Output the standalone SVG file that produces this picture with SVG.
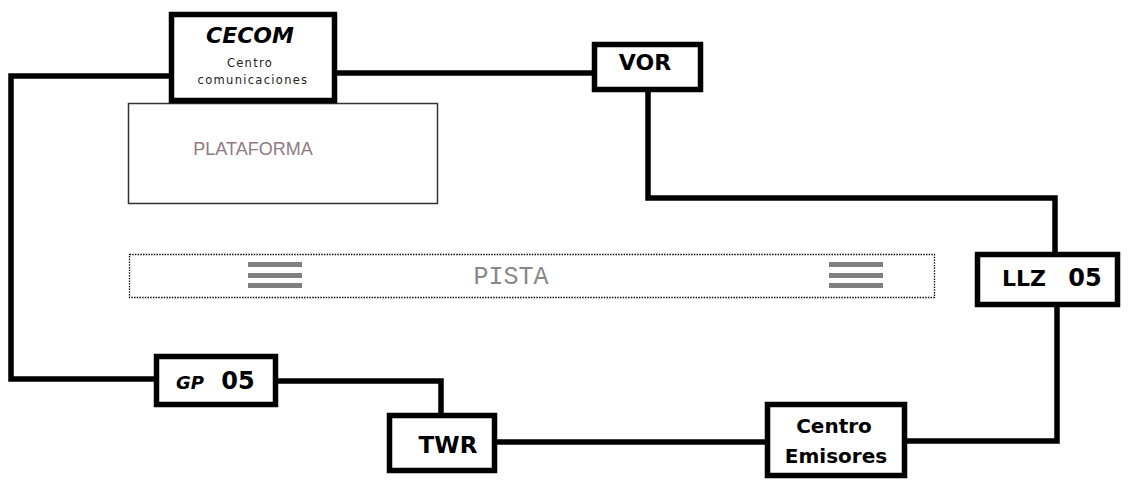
<svg xmlns="http://www.w3.org/2000/svg" width="1131" height="483" viewBox="0 0 1131 483">
<style>
.box{fill:#fff;stroke:#000;stroke-width:5.5}
.wire{fill:none;stroke:#000;stroke-width:5.5;stroke-linejoin:miter;stroke-linecap:butt}
.lbl{font-family:"DejaVu Sans",sans-serif;font-weight:bold;fill:#000;text-anchor:middle}
.it{font-style:oblique}
.sm{font-family:"DejaVu Sans",sans-serif;font-size:11.5px;fill:#222;text-anchor:middle;letter-spacing:1.3px}
.bar{fill:#808080}
</style>
<rect width="1131" height="483" fill="#fff"/>
<g id="plataforma">
<rect x="128.5" y="103.5" width="309" height="100" fill="#fff" stroke="#333" stroke-width="1.5"/>
<text x="253" y="155" font-family="Liberation Sans, sans-serif" font-size="18" fill="#8f7a86" text-anchor="middle">PLATAFORMA</text>
</g>
<g id="pista">
<rect x="129.5" y="254.5" width="805" height="43" fill="none" stroke="#111" stroke-width="1.3" stroke-dasharray="1.5 1.2"/>
<rect class="bar" x="248" y="262" width="54" height="5"/>
<rect class="bar" x="248" y="273" width="54" height="5"/>
<rect class="bar" x="248" y="283" width="54" height="5"/>
<rect class="bar" x="829" y="262" width="54" height="5"/>
<rect class="bar" x="829" y="273" width="54" height="5"/>
<rect class="bar" x="829" y="283" width="54" height="5"/>
<text x="511" y="284" font-family="Liberation Mono, monospace" font-size="25" fill="#888" text-anchor="middle">PISTA</text>
</g>
<g id="connectors">
<polyline class="wire" points="169,76 11,76 11,379 154,379"/>
<polyline class="wire" points="337,73 592,73"/>
<polyline class="wire" points="648,92 648,198 1055,198 1055,252"/>
<polyline class="wire" points="1057,307 1057,441 907,441"/>
<polyline class="wire" points="765,442 497,442"/>
<polyline class="wire" points="278,381 441,381 441,413"/>
</g>
<g id="cecom">
<rect class="box" x="171.5" y="14.5" width="163" height="86"/>
<text class="lbl it" x="250" y="43" font-size="22">CECOM</text>
<text class="sm" x="250" y="67">Centro</text>
<text class="sm" x="253" y="84">comunicaciones</text>
</g>
<g id="vor">
<rect class="box" x="594.5" y="44.5" width="106" height="45"/>
<text class="lbl" x="645" y="70" font-size="22">VOR</text>
</g>
<g id="llz05">
<rect class="box" x="977.5" y="254.5" width="140" height="50"/>
<text class="lbl" x="1024" y="286" font-size="22">LLZ</text>
<text class="lbl" x="1085" y="286" font-size="24">05</text>
</g>
<g id="gp05">
<rect class="box" x="156.5" y="356.5" width="119" height="48"/>
<text class="lbl it" x="190" y="389" font-size="18">GP</text>
<text class="lbl" x="238" y="389" font-size="24">05</text>
</g>
<g id="twr">
<rect class="box" x="389.5" y="415.5" width="105" height="55"/>
<text class="lbl" x="448" y="453" font-size="23">TWR</text>
</g>
<g id="centro-emisores">
<rect class="box" x="767.5" y="404.5" width="137" height="71"/>
<text class="lbl" x="834" y="433" font-size="20">Centro</text>
<text class="lbl" x="836" y="463" font-size="20">Emisores</text>
</g>
</svg>
